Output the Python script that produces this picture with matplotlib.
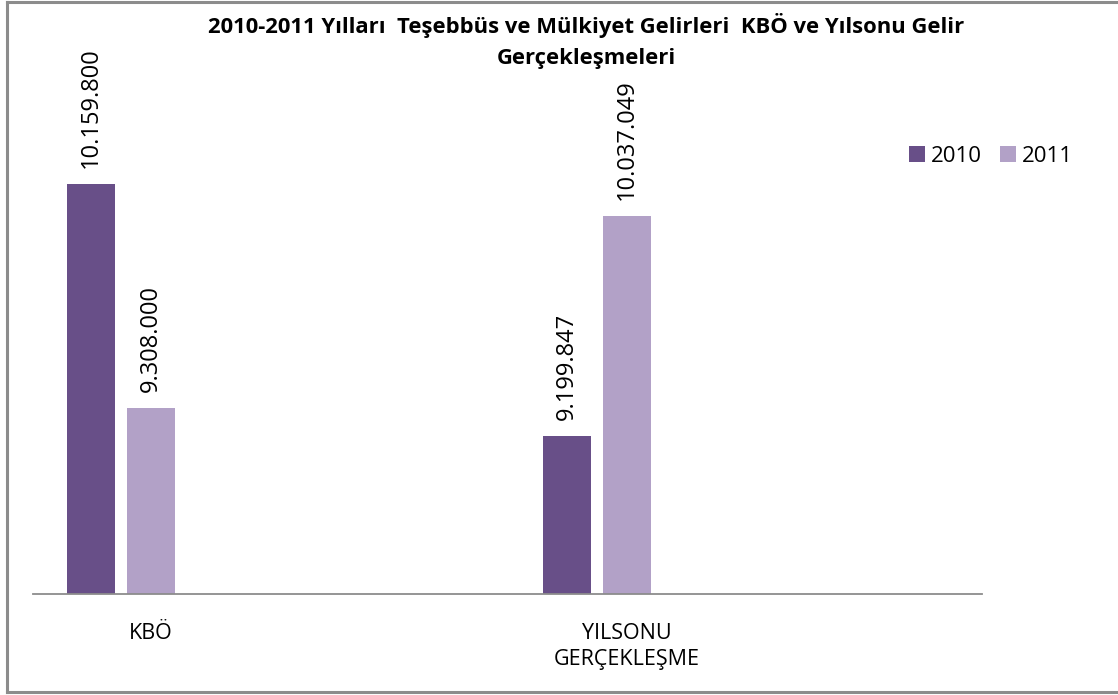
import numpy as np
import matplotlib.pyplot as plt
from matplotlib.lines import Line2D

# veriler
categories = ['KBÖ', 'YILSONU\nGERÇEKLEŞME']
years = ['2010', '2011']
values_2010 = [10159800, 9199847]
values_2011 = [9308000, 10037049]
colors = ['#684f88', '#b2a1c7']
title = '2010-2011 Yılları  Teşebbüs ve Mülkiyet Gelirleri  KBÖ ve Yılsonu Gelir\nGerçekleşmeleri'

plt.rcParams['font.family'] = ['Open Sans', 'DejaVu Sans']

W, H = 1118, 695
fig = plt.figure(figsize=(W / 100, H / 100), dpi=100)
ax = fig.add_axes([33 / W, 1 - 594 / H, (982 - 33) / W, (594 - 15.5) / H])

x = np.arange(len(categories))
width = 0.101
offset = 0.126

def fmt(v):
    return '{:,}'.format(v).replace(',', '.')

for vals, off, col, lab in [(values_2010, -offset, colors[0], years[0]),
                            (values_2011, 0.0, colors[1], years[1])]:
    bars = ax.bar(x + off, vals, width=width, color=col, label=lab)
    for rect, v in zip(bars, vals):
        ax.annotate(fmt(v), (rect.get_x() + rect.get_width() / 2, v),
                    xytext=(0, 16), textcoords='offset pixels',
                    rotation=90, ha='center', va='bottom', fontsize=17)

ax.set_ylim(8600000, 10800000)
ax.set_xlim(-0.248, 1.746)
ax.set_yticks([])
ax.set_xticks(x)
ax.set_xticklabels(categories, fontsize=15.5, linespacing=1.3)
ax.tick_params(axis='x', length=0, pad=21)
for s in ['top', 'right', 'left']:
    ax.spines[s].set_visible(False)
ax.spines['bottom'].set_color('#8c8c8c')
ax.spines['bottom'].set_linewidth(1.3)

fig.text(586 / W, 1 - 41 / H, title, ha='center', va='center',
         fontsize=15.8, fontweight='bold', linespacing=1.65)

fig.legend(loc='center left', bbox_to_anchor=(898 / W, 1 - 156 / H), ncol=2,
           frameon=False, fontsize=16, borderpad=0, handlelength=0.7,
           handleheight=0.7, handletextpad=0.3, columnspacing=0.8)

# dis cerceve
fr = dict(color='#8c8c8c', linewidth=2.2, transform=fig.transFigure)
fig.add_artist(Line2D([6.5 / W, 6.5 / W], [1 - 2 / H, 1 - 692 / H], **fr))
fig.add_artist(Line2D([6.5 / W, 1], [1 - 2 / H, 1 - 2 / H], **fr))
fig.add_artist(Line2D([6.5 / W, 1], [1 - 692 / H, 1 - 692 / H], **fr))

fig.savefig('out.png', dpi=100)
